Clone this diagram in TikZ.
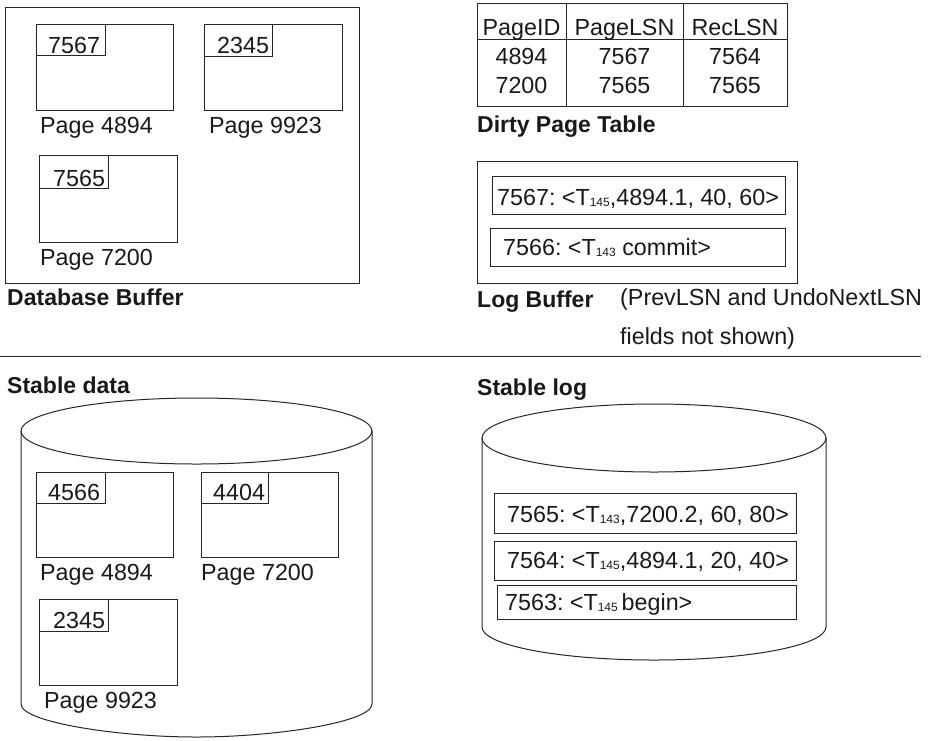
\documentclass[tikz,border=0pt]{standalone}
\usepackage{fontspec}
\setmainfont{Liberation Sans}
\frenchspacing
\newcommand\lsub[1]{\raisebox{-1pt}{\fontsize{12}{12}\selectfont #1}}
\begin{document}
\begin{tikzpicture}[x=1pt,y=-1pt,
  every node/.style={font=\fontsize{23.3}{26}\selectfont, text=black!90, inner sep=0pt},
  lbl/.style={anchor=base west},
  ttl/.style={anchor=base west, font=\fontsize{23}{26}\selectfont\bfseries},
  ctr/.style={anchor=base},
  line/.style={draw=black!85, line width=1pt},
  boxat/.style args={#1/#2}{line, anchor=north west, minimum width=#1pt, minimum height=#2pt}
]
\useasboundingbox (0,0) rectangle (934,740);

% ---------------- Database Buffer ----------------
\node[boxat=354/276] (dbbuf) at (5,7) {};
\node[boxat=137/86] (bp1) at (36,24) {};
\node[boxat=69/31] (bp1l) at (36,24) {};
\node[lbl] (bp1t) at (48,53) {7567};
\node[lbl] (bp1n) at (40,133) {Page 4894};
\node[boxat=138/86] (bp2) at (204,24) {};
\node[boxat=68/32] (bp2l) at (204,24) {};
\node[lbl] (bp2t) at (217,53) {2345};
\node[lbl] (bp2n) at (209,133) {Page 9923};
\node[boxat=138/87] (bp3) at (39,155) {};
\node[boxat=69/33] (bp3l) at (39,155) {};
\node[lbl] (bp3t) at (53,186) {7565};
\node[lbl] (bp3n) at (40,265) {Page 7200};
\node[ttl] (dbt) at (7,305) {Database Buffer};

% ---------------- Dirty Page Table ----------------
\node[boxat=310/103] (dpt) at (477,3) {};
\coordinate (hl) at (477,39);
\coordinate (hr) at (787,39);
\draw[line] (hl) -- (hr);
\coordinate (c1t) at (566,3); \coordinate (c1b) at (566,106);
\coordinate (c2t) at (683,3); \coordinate (c2b) at (683,106);
\draw[line] (c1t) -- (c1b);
\draw[line] (c2t) -- (c2b);
\node[ctr] (h1) at (521.5,35) {PageID};
\node[ctr] (h2) at (624.5,35) {PageLSN};
\node[ctr] (h3) at (735,35) {RecLSN};
\node[ctr] (r11) at (521.5,64) {4894};
\node[ctr] (r12) at (624.5,64) {7567};
\node[ctr] (r13) at (735,64) {7564};
\node[ctr] (r21) at (521.5,93) {7200};
\node[ctr] (r22) at (624.5,93) {7565};
\node[ctr] (r23) at (735,93) {7565};
\node[ttl] (dptt) at (477,132) {Dirty Page Table};

% ---------------- Log Buffer ----------------
\node[boxat=320/122] (lbuf) at (477,161) {};
\node[boxat=293/38] (lb1) at (492,176) {};
\node[lbl] (lb1t) at (497,205) {7567: <T\lsub{145},4894.1, 40, 60>};
\node[boxat=295/38] (lb2) at (490,228) {};
\node[lbl] (lb2t) at (503,255) {7566: <T\lsub{143} commit>};
\node[ttl] (lbt) at (477,307) {Log Buffer};
\node[lbl] (note1) at (620,305) {(PrevLSN and UndoNextLSN};
\node[lbl] (note2) at (620,344) {fields not shown)};

% ---------------- separator ----------------
\coordinate (sepl) at (0,356);
\coordinate (sepr) at (921,356);
\draw[line] (sepl) -- (sepr);

% ---------------- Stable data ----------------
\node[ttl] (sdt) at (7,393) {Stable data};
\coordinate (sdc) at (196.5,431);
\draw[line] (sdc) ellipse [x radius=175.5, y radius=33];
\coordinate (sdtl) at (21,431); \coordinate (sdbl) at (21,704);
\coordinate (sdtr) at (372,431); \coordinate (sdbr) at (372,704);
\draw[line] (sdtl) -- (sdbl)
  .. controls (21,722.2) and (117.6,737) .. (196.5,737)
  .. controls (275.4,737) and (372,722.2) .. (sdbr) -- (sdtr);
\node[boxat=137/85] (sp1) at (36,472) {};
\node[boxat=69/31] (sp1l) at (36,472) {};
\node[lbl] (sp1t) at (48,500) {4566};
\node[lbl] (sp1n) at (40,580) {Page 4894};
\node[boxat=137/85] (sp2) at (201,472) {};
\node[boxat=67/31] (sp2l) at (201,472) {};
\node[lbl] (sp2t) at (213,500) {4404};
\node[lbl] (sp2n) at (201,580) {Page 7200};
\node[boxat=138/86] (sp3) at (39,599) {};
\node[boxat=69/32] (sp3l) at (39,599) {};
\node[lbl] (sp3t) at (53,628) {2345};
\node[lbl] (sp3n) at (44,708) {Page 9923};

% ---------------- Stable log ----------------
\node[ttl] (slt) at (477,395) {Stable log};
\coordinate (slc) at (654,438);
\draw[line] (slc) ellipse [x radius=172, y radius=34];
\coordinate (sltl) at (482,438); \coordinate (slbl) at (482,627);
\coordinate (sltr) at (826,438); \coordinate (slbr) at (826,627);
\draw[line] (sltl) -- (slbl)
  .. controls (482,645.2) and (559,660) .. (654,660)
  .. controls (749,660) and (826,645.2) .. (slbr) -- (sltr);
\node[boxat=302/40] (sl1) at (494,493) {};
\node[lbl] (sl1t) at (507,522) {7565: <T\lsub{143},7200.2, 60, 80>};
\node[boxat=302/39] (sl2) at (494,541) {};
\node[lbl] (sl2t) at (507,568) {7564: <T\lsub{145},4894.1, 20, 40>};
\node[boxat=299/34] (sl3) at (497,585) {};
\node[lbl] (sl3t) at (505,610) {7563: <T\lsub{145}\,begin>};
\end{tikzpicture}
\end{document}
